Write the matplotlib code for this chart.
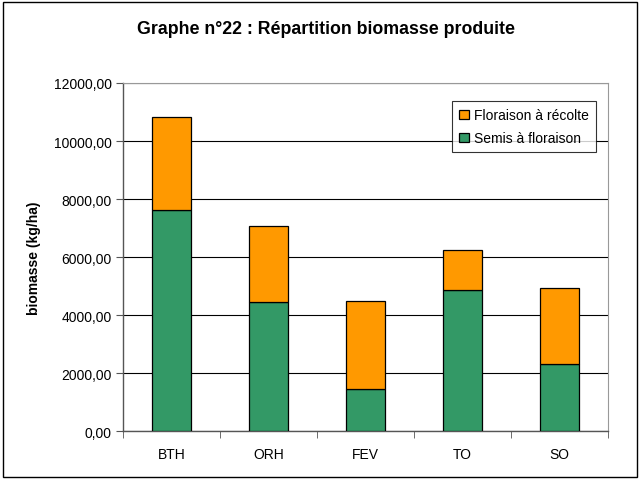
import numpy as np
import matplotlib.pyplot as plt
from matplotlib.patches import Rectangle

plt.rcParams['font.family'] = ['Liberation Sans', 'DejaVu Sans']

cultures = ['BTH', 'ORH', 'FEV', 'TO', 'SO']
semis_floraison = [7630, 4450, 1450, 4860, 2330]
floraison_recolte = [3190, 2620, 3030, 1370, 2620]

vert = '#339966'
orange = '#FF9900'

fig = plt.figure(figsize=(6.41, 4.81), dpi=100)
ax = fig.add_axes([0.1919, 0.1013, 0.7566, 0.7241])

x = np.arange(len(cultures))
b1 = ax.bar(x, semis_floraison, 0.4, color=vert, edgecolor='black', linewidth=0.9,
            label='Semis à floraison', zorder=3)
b2 = ax.bar(x, floraison_recolte, 0.4, bottom=semis_floraison, color=orange,
            edgecolor='black', linewidth=0.9, label='Floraison à récolte', zorder=3)

ax.set_xlim(-0.5, len(cultures) - 0.5)
ax.set_ylim(0, 12000)
ax.set_yticks(np.arange(0, 12001, 2000))
ax.set_yticklabels(['%d,00' % v for v in np.arange(0, 12001, 2000)], fontsize=10)
ax.yaxis.grid(True, color='black', linewidth=0.8, zorder=0)

ax.set_xticks(x)
ax.set_xticklabels(cultures, fontsize=10)
ax.set_xticks(np.arange(-0.5, len(cultures)), minor=True)
ax.tick_params(axis='x', which='major', length=0, pad=11)
ax.tick_params(axis='x', which='minor', length=5, color='#555555')
ax.tick_params(axis='y', length=5, color='#555555', pad=3)

for s in ['top', 'right']:
    ax.spines[s].set_color('#999999')
for s in ['left', 'bottom']:
    ax.spines[s].set_color('#555555')
    ax.spines[s].set_linewidth(1.0)

ax.set_ylabel('biomasse (kg/ha)', fontsize=10, fontweight='bold', labelpad=9)

leg = ax.legend(handles=[b2, b1], loc='upper right', bbox_to_anchor=(0.99, 0.967),
                fontsize=10, frameon=True, fancybox=False, edgecolor='black',
                handlelength=0.7, handleheight=0.7, handletextpad=0.4,
                borderpad=0.5, labelspacing=0.65)
leg.get_frame().set_linewidth(0.8)

fig.text(0.508, 0.938, 'Graphe n°22 : Répartition biomasse produite', ha='center',
         va='center', fontsize=12.8, fontweight='bold')

fig.patches.append(Rectangle((0.005, 0.006), 0.989, 0.988, transform=fig.transFigure,
                             fill=False, edgecolor='black', linewidth=1.0))

fig.savefig('out.png', dpi=100)
